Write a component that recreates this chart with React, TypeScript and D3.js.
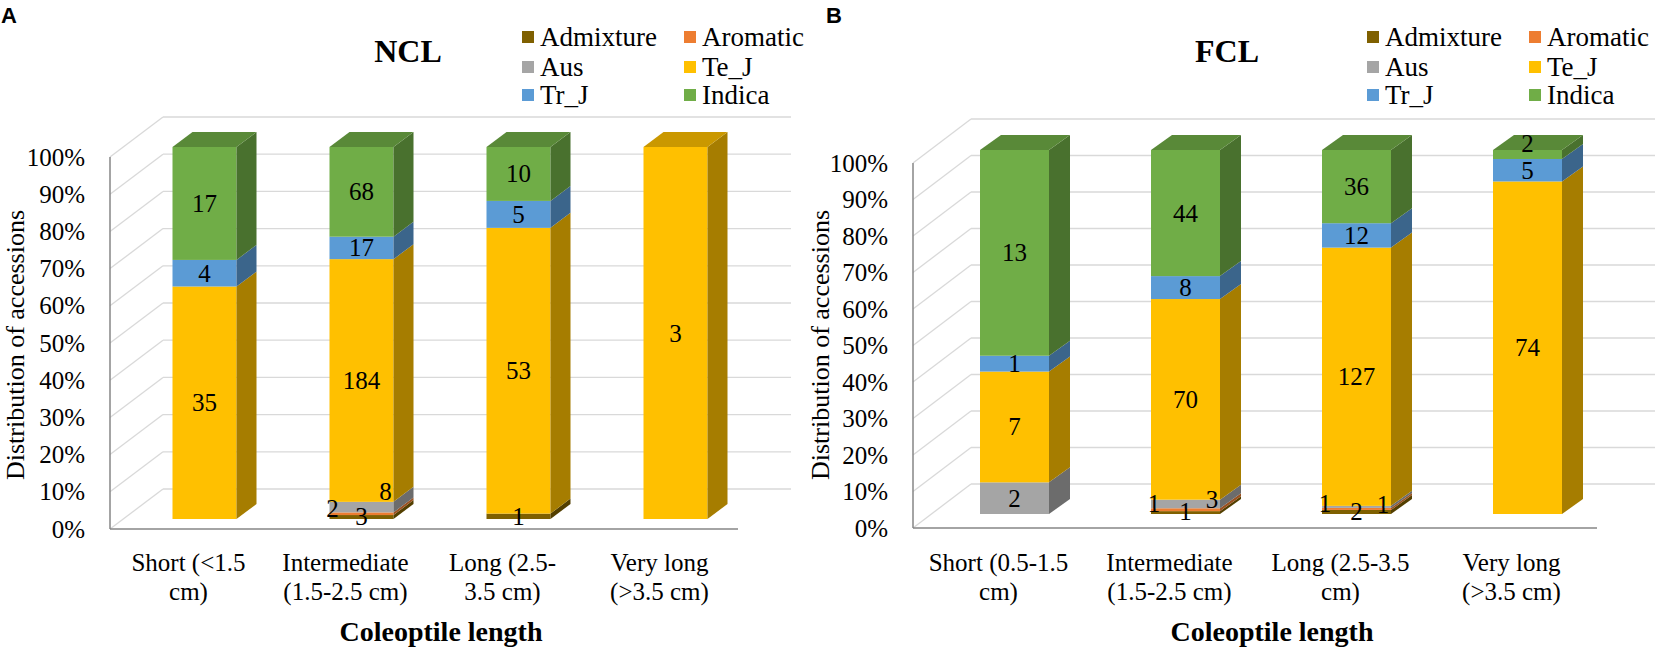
import React from "react";
import * as d3 from "d3";

const seriesNames = ["Admixture", "Aromatic", "Aus", "Te_J", "Tr_J", "Indica"];
const seriesColors = ["#7F6000", "#ED7D31", "#A5A5A5", "#FFC000", "#5B9BD5", "#70AD47"];

const nclCategories = [["Short (<1.5", "cm)"], ["Intermediate", "(1.5-2.5 cm)"], ["Long (2.5-", "3.5 cm)"], ["Very long", "(>3.5 cm)"]];
const fclCategories = [["Short (0.5-1.5", "cm)"], ["Intermediate", "(1.5-2.5 cm)"], ["Long (2.5-3.5", "cm)"], ["Very long", "(>3.5 cm)"]];

// values per series, one entry per category
const nclAdmixture = [0, 3, 1, 0];
const nclAromatic = [0, 2, 0, 0];
const nclAus = [0, 8, 0, 0];
const nclTeJ = [35, 184, 53, 3];
const nclTrJ = [4, 17, 5, 0];
const nclIndica = [17, 68, 10, 0];

const fclAdmixture = [0, 1, 2, 0];
const fclAromatic = [0, 1, 1, 0];
const fclAus = [2, 3, 1, 0];
const fclTeJ = [7, 70, 127, 74];
const fclTrJ = [1, 8, 12, 5];
const fclIndica = [13, 44, 36, 2];

const yTicks = [0, 0.1, 0.2, 0.3, 0.4, 0.5, 0.6, 0.7, 0.8, 0.9, 1];

const SERIF = "'Liberation Serif', 'Times New Roman', Times, serif";
const SANS = "'Liberation Sans', Arial, sans-serif";

type Geo = {
  letter: string; letterX: number;
  title: string; titleX: number;
  axisX: number; catW: number;
  wall0: number; wall100: number; wallDX: number; wallDY: number;
  bar0: number; bar100: number; barDX: number; barW: number; depthX: number; depthY: number;
  yTitleX: number; legendX: number;
};

function Panel({ geo, categories, series }: { geo: Geo; categories: string[][]; series: number[][] }) {
  const catKeys = categories.map((c) => c.join(" "));
  const x = d3.scaleBand<string>().domain(catKeys).range([geo.axisX, geo.axisX + geo.catW * categories.length]);
  const yWall = d3.scaleLinear().domain([0, 1]).range([geo.wall0, geo.wall100]);
  const yBack = d3.scaleLinear().domain([0, 1]).range([geo.wall0 + geo.wallDY, geo.wall100 + geo.wallDY]);
  const yBar = d3.scaleLinear().domain([0, 1]).range([geo.bar0, geo.bar100]);
  const color = d3.scaleOrdinal<string, string>().domain(seriesNames).range(seriesColors);

  const rows = catKeys.map((k, i) => {
    const r: any = { key: k };
    seriesNames.forEach((s, j) => (r[s] = series[j][i]));
    return r;
  });
  const stacked = d3.stack<any>().keys(seriesNames).offset(d3.stackOffsetExpand)(rows);

  const xEnd = geo.axisX + geo.catW * categories.length;
  const grid = "#D9D9D9";
  const axisCol = "#868686";

  const bars: any[] = [];
  const labels: any[] = [];
  catKeys.forEach((k, i) => {
    const cx = (x(k) as number) + x.bandwidth() / 2 + geo.barDX;
    const x0 = cx - geo.barW / 2;
    const x1 = cx + geo.barW / 2;
    let topIdx = -1;
    stacked.forEach((s, j) => { if (s[i][1] - s[i][0] > 0) topIdx = j; });
    stacked.forEach((s, j) => {
      const [a, b] = s[i];
      if (b - a <= 0) return;
      const c = color(seriesNames[j]);
      const yt = yBar(b);
      const yb = yBar(a);
      const side = d3.color(c)!.darker(1.2).formatHex();
      const topc = d3.color(c)!.darker(0.65).formatHex();
      bars.push(<rect key={`f${i}-${j}`} x={x0} y={yt} width={geo.barW} height={yb - yt} fill={c} />);
      bars.push(
        <polygon key={`s${i}-${j}`} fill={side}
          points={`${x1},${yt} ${x1 + geo.depthX},${yt + geo.depthY} ${x1 + geo.depthX},${yb + geo.depthY} ${x1},${yb}`} />
      );
      if (j === topIdx) {
        bars.push(
          <polygon key={`t${i}-${j}`} fill={topc}
            points={`${x0},${yt} ${x0 + geo.depthX},${yt + geo.depthY} ${x1 + geo.depthX},${yt + geo.depthY} ${x1},${yt}`} />
        );
      }
      const v = series[j][i];
      const small = b - a < 0.05 && j < 3;
      let lx = cx;
      let ly = yBar((a + b) / 2);
      if (small) {
        if (seriesNames[j] === "Aromatic") { lx = x0 + 3; ly = geo.bar0 - 11; }
        else if (seriesNames[j] === "Admixture") { lx = cx; ly = geo.bar0 - 3; }
        else { lx = x1 - 8; ly = Math.min(yBar((a + b) / 2) - 2, yt - (b > 0.04 ? 10 : 0)); }
      } else if (j === topIdx && b - a < 0.04) {
        ly = yt - 7;
      }
      labels.push(
        <text key={`l${i}-${j}`} x={lx} y={ly} textAnchor="middle" dominantBaseline="central"
          style={{ fontFamily: SERIF }} fontSize={25} fill="#000">{v}</text>
      );
    });
  });

  return (
    <g>
      <text x={geo.letterX} y={23} style={{ fontFamily: SANS }} fontWeight="bold" fontSize={22}>{geo.letter}</text>
      <text x={geo.titleX} y={62} textAnchor="middle" style={{ fontFamily: SERIF }} fontWeight="bold" fontSize={32}>{geo.title}</text>
      {seriesNames.map((s, j) => {
        const col = j % 2;
        const row = Math.floor(j / 2);
        const lx = geo.legendX + col * 162;
        const ly = [37, 67, 95][row];
        return (
          <g key={s}>
            <rect x={lx} y={ly - 6} width={12} height={12} fill={color(s)} />
            <text x={lx + 18} y={ly} dominantBaseline="central" style={{ fontFamily: SERIF }} fontSize={27}>{s}</text>
          </g>
        );
      })}
      {yTicks.map((t) => (
        <line key={`bw${t}`} x1={geo.axisX + geo.wallDX} x2={xEnd + geo.wallDX} y1={yBack(t)} y2={yBack(t)} stroke={grid} strokeWidth={1.3} />
      ))}
      {yTicks.map((t) => (
        <line key={`sw${t}`} x1={geo.axisX} x2={geo.axisX + geo.wallDX} y1={yWall(t)} y2={yBack(t)} stroke={grid} strokeWidth={1.3} />
      ))}
      <line x1={geo.axisX} x2={geo.axisX} y1={yWall(1)} y2={yWall(0)} stroke={axisCol} strokeWidth={1.5} />
      <line x1={geo.axisX} x2={xEnd} y1={yWall(0)} y2={yWall(0)} stroke={axisCol} strokeWidth={1.5} />
      {yTicks.map((t) => (
        <text key={`yt${t}`} x={geo.axisX - 25} y={yWall(t)} textAnchor="end" dominantBaseline="central"
          style={{ fontFamily: SERIF }} fontSize={25}>{d3.format(".0%")(t)}</text>
      ))}
      <text transform={`translate(${geo.yTitleX},345) rotate(-90)`} textAnchor="middle" dominantBaseline="central"
        style={{ fontFamily: SERIF }} fontSize={26}>Distribution of accessions</text>
      {bars}
      {labels}
      {categories.map((c, i) => (
        <g key={`xl${i}`}>
          {c.map((line, li) => (
            <text key={li} x={(x(catKeys[i]) as number) + x.bandwidth() / 2} y={562 + li * 29} textAnchor="middle"
              dominantBaseline="central" style={{ fontFamily: SERIF }} fontSize={25}>{line}</text>
          ))}
        </g>
      ))}
      <text x={(geo.axisX + xEnd) / 2 + 17} y={631} textAnchor="middle" dominantBaseline="central"
        style={{ fontFamily: SERIF }} fontWeight="bold" fontSize={28}>Coleoptile length</text>
    </g>
  );
}

const geoA: Geo = {
  letter: "A", letterX: 1, title: "NCL", titleX: 408,
  axisX: 110, catW: 157, wall0: 529, wall100: 157, wallDX: 53, wallDY: -40,
  bar0: 519, bar100: 147, barDX: 16, barW: 64, depthX: 20, depthY: -15,
  yTitleX: 15, legendX: 522,
};
const geoB: Geo = {
  letter: "B", letterX: 826, title: "FCL", titleX: 1227,
  axisX: 913, catW: 171, wall0: 528, wall100: 163, wallDX: 58, wallDY: -44,
  bar0: 514, bar100: 150, barDX: 16, barW: 69, depthX: 21, depthY: -15,
  yTitleX: 820, legendX: 1367,
};

export default function App() {
  const ncl = [nclAdmixture, nclAromatic, nclAus, nclTeJ, nclTrJ, nclIndica];
  const fcl = [fclAdmixture, fclAromatic, fclAus, fclTeJ, fclTrJ, fclIndica];
  return (
    <svg width={1660} height={648} style={{ position: "absolute", left: 0, top: 0, background: "#fff" }}>
      <rect width={1660} height={648} fill="#fff" />
      <Panel geo={geoA} categories={nclCategories} series={ncl} />
      <Panel geo={geoB} categories={fclCategories} series={fcl} />
    </svg>
  );
}
